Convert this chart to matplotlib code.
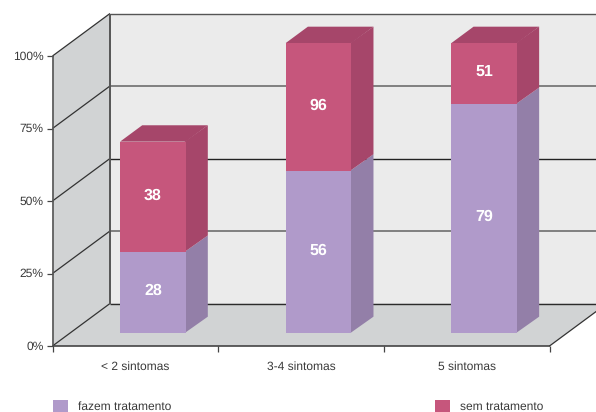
import matplotlib
matplotlib.use("Agg")
import matplotlib.pyplot as plt
from matplotlib.patches import Polygon, Rectangle

# Data
categories = ["< 2 sintomas", "3-4 sintomas", "5 sintomas"]
fazem_pct = [28, 56, 79]          # plotted height of the lower segment (%)
sem_pct = [38, 44, 21]            # plotted height of the upper segment (%)
fazem_labels = ["28", "56", "79"]
sem_labels = ["38", "96", "51"]
yticks = [0, 25, 50, 75, 100]
series_names = ["fazem tratamento", "sem tratamento"]

# Colours
WALL = "#EBEBEB"
SIDE = "#D1D3D4"
PURPLE, PURPLE_D = "#B09ACA", "#937FA8"
PINK, PINK_D = "#C6567C", "#A6466A"
TEXT = "#3A3A3A"

plt.rcParams["text.hinting"] = "no_hinting"
plt.rcParams["text.hinting_factor"] = 1
plt.rcParams["font.family"] = ["Liberation Sans", "DejaVu Sans"]
FS = 8.9

fig = plt.figure(figsize=(5.96, 4.12), dpi=100)
ax = fig.add_axes([0, 0, 1, 1])
ax.set_xlim(0, 596)
ax.set_ylim(412, 0)
ax.axis("off")

# Projection: category position, percent, depth (0 front .. 1 back) -> pixels
X0, X1, Y0, Y100 = 52.5, 549.5, 346, 56
DX, DY = 57.5, -42.5


def P(c, v, d=0.0):
    x = X0 + (X1 - X0) * c / 3
    y = Y0 + (Y100 - Y0) * v / 100
    return (x + DX * d, y + DY * d)


def poly(pts, fc, z=1, ec="none", lw=0):
    ax.add_patch(Polygon(pts, closed=True, fc=fc, ec=ec, lw=lw, zorder=z, clip_on=True))


def line(a, b, color, lw, z=2):
    ax.plot([a[0], b[0]], [a[1], b[1]], color=color, lw=lw, zorder=z,
            solid_capstyle="butt", clip_on=True)


# Walls and floor
poly([P(0, 0, 1), P(3.3, 0, 1), P(3.3, 100, 1), P(0, 100, 1)], WALL, 1)
poly([P(0, 0), P(0, 100), P(0, 100, 1), P(0, 0, 1)], SIDE, 1)
poly([P(0, 0), P(3, 0), P(3, 0, 1), P(0, 0, 1)], SIDE, 1)

# Gridlines
grid_col = {0: "#2B2B2B", 25: "#777777", 50: "#222222", 75: "#777777", 100: "#555555"}
grid_lw = {0: 1.0, 25: 1.3, 50: 1.0, 75: 1.3, 100: 1.0}
for v in yticks:
    line(P(0, v, 1), P(3.3, v, 1), grid_col[v], grid_lw[v])
    line(P(0, v), P(0, v, 1), "#333333", 0.9)
    line(P(0, v), (P(0, v)[0] - 6, P(0, v)[1]), "#444444", 0.9)
    ax.text(P(0, v)[0] - 9, P(0, v)[1] + 0.5, f"{v}%", ha="right", va="center",
            fontsize=FS, color=TEXT)
line(P(0, 0, 1), P(0, 100, 1), "#555555", 1.4)
line(P(0, 0), P(0, 100), "#555555", 1.2)
line(P(0, 0), P(3, 0), "#444444", 1.2)
line(P(3, 0), P(3, 0, 1), "#333333", 0.9)

# X ticks and labels
for c in range(4):
    line(P(c, 0), (P(c, 0)[0], P(c, 0)[1] + 6), "#444444", 0.9)
for i, cat in enumerate(categories):
    ax.text(P(i + 0.5, 0)[0], 367, cat, ha="center", va="center", fontsize=FS, color=TEXT)

# Bars
HALF = 0.198
D_FRONT, D_BACK = 0.305, 0.69
BASE = 0.0
LABEL_SHIFT = -1.5
OVERLAP = 0.006


def box(c, v0, v1, col, dark):
    a, b = c - HALF, c + HALF
    poly([P(a, v0, D_FRONT), P(b, v0, D_FRONT), P(b, v1, D_FRONT), P(a, v1, D_FRONT)], col, 5)
    poly([P(b - OVERLAP, v0, D_FRONT), P(b, v0, D_BACK), P(b, v1, D_BACK), P(b - OVERLAP, v1, D_FRONT)], dark, 4)


for i in range(3):
    c = i + 0.5
    low, up = fazem_pct[i], sem_pct[i]
    box(c, BASE, low, PURPLE, PURPLE_D)
    box(c, low, low + up, PINK, PINK_D)
    top = low + up
    a, b = c - HALF, c + HALF
    poly([P(a, top, D_FRONT), P(b, top, D_FRONT), P(b, top, D_BACK), P(a, top, D_BACK)], PINK_D, 4)
    xl, yl = P(c, low / 2, D_FRONT)
    ax.text(xl, yl + LABEL_SHIFT, fazem_labels[i], color="white",
            fontsize=11.5, fontweight="bold", ha="center", va="center", zorder=6)
    xu, yu = P(c, low + up / 2, D_FRONT)
    ax.text(xu, yu + LABEL_SHIFT, sem_labels[i], color="white",
            fontsize=11.5, fontweight="bold", ha="center", va="center", zorder=6)

# Legend
ax.add_patch(Rectangle((53, 400), 15, 12, fc=PURPLE, ec="none"))
ax.text(78, 406.5, series_names[0], ha="left", va="center", fontsize=FS, color=TEXT)
ax.add_patch(Rectangle((435, 400), 15, 12, fc=PINK, ec="none"))
ax.text(460, 406.5, series_names[1], ha="left", va="center", fontsize=FS, color=TEXT)

fig.savefig("out.png", dpi=100)
